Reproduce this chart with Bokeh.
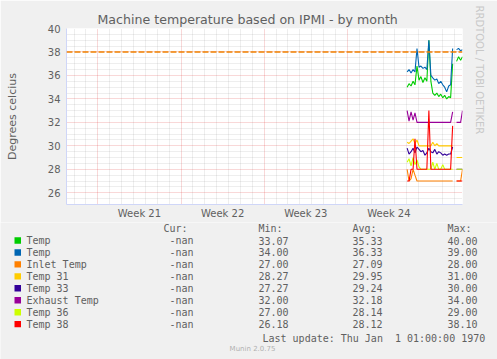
from bokeh.plotting import figure
from bokeh.models import FixedTicker, Span, Range1d, Title
from bokeh.core.properties import value
from bokeh.embed import file_html
from bokeh.resources import INLINE

NAN = float("nan")

# ---------------- data ----------------
# time in days from the left edge of the month graph
t = [28.67, 28.83, 29.00, 29.17, 29.33, 29.50, 29.67, 29.83, 30.00, 30.17,
     30.33, 30.50, 30.67, 30.83, 31.00, 31.17, 31.33, 31.50, 31.67, 31.83,
     32.00, 32.17, 32.33, 32.50, 32.67, 32.83, 33.00, 33.17, 33.33]

temp_a = [35.0, 35.3, 35.1, 35.5, 35.2, 36.8, 35.6, 35.9, 35.4, 35.8,
          35.5, 39.0, 35.5, 34.5, 34.3, 34.5, 34.2, 34.4, 34.1, 34.3,
          34.0, 34.2, 34.1, 37.0, NAN, 37.2, 37.6, 37.3, 37.6]
temp_b = [36.3, 36.5, 36.2, 36.5, 36.3, 38.3, 36.7, 36.8, 36.6, 36.7,
          36.5, 39.0, 36.0, 35.8, 35.6, 35.7, 35.3, 35.5, 35.2, 35.0,
          34.6, 35.1, 35.2, 38.3, NAN, 38.2, 38.3, 38.1, 38.2]
inlet = [28.0, 27.0, 27.2, 28.0, 27.5, 27.0, 27.0, 27.0, 27.0, 27.0,
         27.0, 27.0, 27.0, 27.0, 27.0, 27.0, 27.0, 27.0, 27.0, 27.0,
         27.0, 27.0, 27.0, 27.0, NAN, 27.0, 27.0, 27.0, 28.0]
temp31 = [30.3, 30.2, 30.4, 30.6, 30.2, 30.5, 30.0, 30.0, 30.0, 30.0,
          30.0, 30.0, 30.0, 30.3, 30.0, 30.2, 30.0, 30.0, 30.0, 30.0,
          30.0, 30.0, 30.0, 30.0, NAN, 29.0, 29.0, 29.0, 29.0]
temp33 = [29.8, 29.3, 29.5, 29.8, 29.4, 29.9, 29.7, 29.5, 29.6, 29.2,
          29.4, 29.8, 29.5, 29.4, 29.7, 29.3, 29.5, 29.4, 29.2, 29.3,
          29.2, 29.3, 29.3, 29.9, NAN, 28.0, 28.0, 28.0, 28.0]
exhaust = [33.0, 32.1, 32.9, 32.2, 32.8, 32.0, 32.0, 32.0, 32.0, 32.0,
           32.0, 32.0, 32.0, 32.0, 32.0, 32.0, 32.0, 32.0, 32.0, 32.0,
           32.0, 32.0, 32.0, 32.9, NAN, 32.0, 32.0, 32.0, 33.0]
temp36 = [28.6, 28.9, 28.3, 29.0, 28.4, 28.8, 28.2, 28.0, 28.0, 28.0,
          28.0, 28.0, 28.0, 28.6, 28.0, 28.5, 28.0, 28.0, 28.4, 28.0,
          28.0, 28.0, 28.0, 28.0, NAN, 28.0, 28.0, 28.0, 28.0]
temp38 = [27.0, 27.0, 28.0, 28.0, 30.6, 28.0, 28.0, 28.0, 28.0, 28.0,
          28.0, 33.0, 28.0, 28.0, 28.0, 28.0, 28.0, 28.0, 28.0, 28.0,
          28.0, 28.0, 28.0, 31.7, NAN, 27.0, 27.0, 27.0, 27.0]

names = ["Temp", "Temp", "Inlet Temp", "Temp 31", "Temp 33", "Exhaust Temp", "Temp 36", "Temp 38"]
colors = ["#00CC00", "#0066B3", "#FF8000", "#FFCC00", "#330099", "#990099", "#CCFF00", "#FF0000"]
series = [temp_a, temp_b, inlet, temp31, temp33, exhaust, temp36, temp38]
cur = ["-nan"] * 8
mins = ["33.07", "34.00", "27.00", "28.27", "27.27", "32.00", "27.00", "26.18"]
avgs = ["35.33", "36.33", "27.09", "29.95", "29.24", "32.18", "28.14", "28.12"]
maxs = ["40.00", "39.00", "28.00", "31.00", "30.00", "34.00", "29.00", "38.10"]

week_labels = ["Week 21", "Week 22", "Week 23", "Week 24"]
week_starts = [2.64, 9.64, 16.64, 23.64]
week_centers = [6.14, 13.14, 20.14, 27.14]
y_ticks = [26, 28, 30, 32, 34, 36, 38, 40]
warning_level = 38

# ---------------- layout constants ----------------
W, H = 497, 359
TOP_H = 222                      # height of the chart figure
FL, FR, FT, FB = 66, 466, 28, 204   # frame edges in canvas pixels
FONT = "DejaVu Sans"
MONO = "DejaVu Sans Mono"
TXT = "#606060"
AXC = "#CFD6F8"
BG = "#F0F0F0"

p = figure(width=W, height=TOP_H, output_backend="svg", toolbar_location=None,
           x_range=Range1d(0, 33.33), y_range=Range1d(25, 40),
           min_border_left=FL, min_border_right=W - FR,
           min_border_top=FT, min_border_bottom=TOP_H - FB,
           background_fill_color="white", border_fill_color=BG,
           outline_line_color=None)

# title
p.title.text = "Machine temperature based on IPMI - by month"
p.title.align = "left"
p.title.offset = 31
p.title.standoff = 3
p.title.text_font = FONT
p.title.text_font_size = "12.6px"
p.title.text_font_style = "normal"
p.title.text_color = TXT

# side watermark
p.add_layout(Title(text="RRDTOOL / TOBI OETIKER", align="left", offset=-23,
                   standoff=22, text_font=FONT, text_font_size="10px",
                   text_font_style="normal", text_color="#C8C8C8"), "right")

# axes
p.xaxis.ticker = FixedTicker(ticks=week_centers)
p.xaxis.major_label_overrides = {c: l for c, l in zip(week_centers, week_labels)}
p.yaxis.ticker = FixedTicker(ticks=y_ticks)
for ax in (p.xaxis[0], p.yaxis[0]):
    ax.axis_line_color = AXC
    ax.major_tick_line_color = None
    ax.minor_tick_line_color = None
    ax.major_tick_out = 0
    ax.major_tick_in = 0
    ax.minor_tick_out = 0
    ax.minor_tick_in = 0
    ax.major_label_text_font = FONT
    ax.major_label_text_font_size = "10px"
    ax.major_label_text_color = TXT
p.xaxis.major_label_standoff = 3
p.yaxis.major_label_standoff = 6
p.yaxis.axis_label = "Degrees celcius"
p.yaxis.axis_label_text_font = FONT
p.yaxis.axis_label_text_font_size = "11px"
p.yaxis.axis_label_text_font_style = "normal"
p.yaxis.axis_label_text_color = TXT
p.yaxis.axis_label_standoff = 26

# grids
days = [d + 0.64 for d in range(0, 33) if (d % 7) != 2]
p.xgrid.ticker = FixedTicker(ticks=week_starts, minor_ticks=days)
halves = [25 + 0.5 * k for k in range(31) if (25 + 0.5 * k) not in y_ticks]
p.ygrid.ticker = FixedTicker(ticks=y_ticks, minor_ticks=halves)
for g in (p.xgrid[0], p.ygrid[0]):
    g.grid_line_color = "#DE3030"
    g.grid_line_alpha = 0.38
    g.grid_line_dash = "1 1"
    g.minor_grid_line_color = "#8F8F8F"
    g.minor_grid_line_alpha = 0.3
    g.minor_grid_line_dash = "1 1"

# warning rule
p.add_layout(Span(location=warning_level, dimension="width", line_color="#F08000",
                  line_dash="6 2", line_width=1.5))

# data lines
for s, c in zip(series, colors):
    p.line(t, s, line_color=c, line_width=1.1)

# ---------------- legend figure (pixel coordinates, y downwards) ----------------
LH = H - TOP_H
q = figure(width=W, height=LH, output_backend="svg", toolbar_location=None,
           x_range=Range1d(0, W), y_range=Range1d(LH, 0),
           min_border=0, min_border_left=0, min_border_right=0,
           min_border_top=0, min_border_bottom=0,
           x_axis_location=None, y_axis_location=None,
           background_fill_color=BG, border_fill_color=BG, outline_line_color=None)
q.grid.visible = False

hy = 228 - TOP_H
rows = [240 + 11.95 * i - TOP_H for i in range(8)]
mono = dict(text_font=value(MONO), text_font_size="10px", text_color=TXT,
            text_baseline="middle", text_align="left")
q.text(x=[163, 258, 352, 447], y=[hy] * 4, text=["Cur:", "Min:", "Avg:", "Max:"], **mono)
q.rect(x=[17.25] * 8, y=rows, width=6.5, height=6.4, fill_color=colors, line_color=None)
q.text(x=[26] * 8, y=rows, text=names, **mono)
q.text(x=[169] * 8, y=rows, text=cur, **mono)
q.text(x=[258] * 8, y=rows, text=mins, **mono)
q.text(x=[352] * 8, y=rows, text=avgs, **mono)
q.text(x=[447] * 8, y=rows, text=maxs, **mono)
q.text(x=[262], y=[338 - TOP_H], text=["Last update: Thu Jan\u00a0 1 01:00:00 1970"], **mono)
q.text(x=[252], y=[348 - TOP_H], text=["Munin 2.0.75"], text_font=value(FONT),
       text_font_size="7px", text_color="#B0B0B0", text_baseline="middle",
       text_align="center")

open("out.html", "w").write(file_html([p, q], INLINE))
